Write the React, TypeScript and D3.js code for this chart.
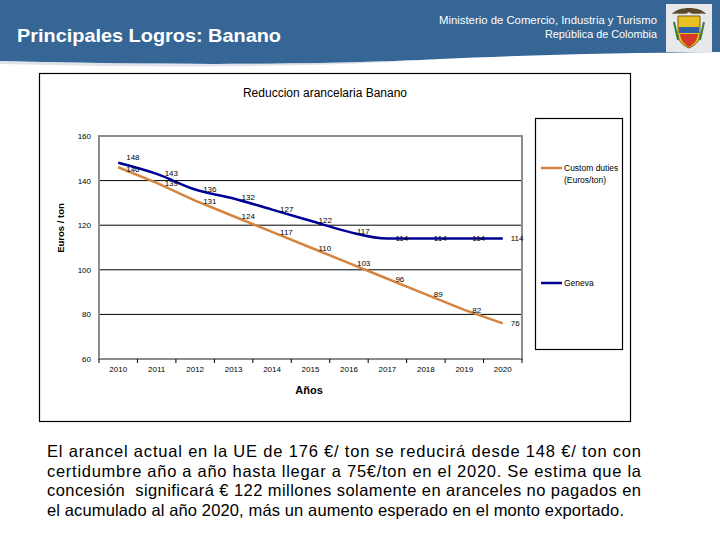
import * as d3 from "d3";

const years = ["2010", "2011", "2012", "2013", "2014", "2015", "2016", "2017", "2018", "2019", "2020"];
const customDuties = [146, 139, 131, 124, 117, 110, 103, 96, 89, 82, 76];
const geneva = [148, 143, 136, 132, 127, 122, 117, 114, 114, 114, 114];
const yTicks = [60, 80, 100, 120, 140, 160];

const paragraph = [
  "El arancel actual en la UE de 176 €/ ton se reducirá desde 148 €/ ton con",
  "certidumbre año a año hasta llegar a 75€/ton en el 2020. Se estima que la",
  "concesión  significará € 122 millones solamente en aranceles no pagados en",
  "el acumulado al año 2020, más un aumento esperado en el monto exportado.",
];

const ORANGE = "#d4843e";
const BLUE = "#000096";
const HEADER = "#356696";
const FONT = "'Liberation Sans', Arial, sans-serif";

export default function App() {
  const x = d3.scaleBand<string>().domain(years).range([99, 522]);
  const y = d3.scaleLinear().domain([60, 160]).range([359, 136]);
  const cx = (i: number) => x(years[i])! + x.bandwidth() / 2;

  const orangeLine = d3
    .line<number>()
    .x((_, i) => cx(i))
    .y((d) => y(d));
  const blueLine = d3
    .line<number>()
    .x((_, i) => cx(i))
    .y((d) => y(d))
    .curve(d3.curveMonotoneX);

  const boundaries = years.map((yr) => x(yr)!).concat([522]);

  // the first two labels sit on top of each other, nudge them apart
  const gShift = (i: number) => (i === 0 ? -2.5 : 2);
  const cShift = (i: number) => (i === 0 ? 5 : 3);

  return (
    <svg
      width={720}
      height={540}
      style={{ position: "absolute", left: 0, top: 0, background: "#fff" }}
      fontFamily={FONT}
    >
      {/* header band */}
      <path
        d="M0,0 H720 V52 C620,53 520,55 440,59 C340,64 200,66 0,61 Z"
        fill={HEADER}
      />
      <path
        d="M0,61 C200,66 340,64 440,59 C340,66 200,69 0,64 Z"
        fill="#c9d2dc"
        opacity={0.6}
      />
      <text x={17} y={42} fill="#fff" fontSize={19} fontWeight="bold" textLength={264} lengthAdjust="spacingAndGlyphs">
        Principales Logros: Banano
      </text>
      <text x={657} y={24} fill="#fff" fontSize={11.5} textAnchor="end" textLength={218} lengthAdjust="spacingAndGlyphs">
        Ministerio de Comercio, Industria y Turismo
      </text>
      <text x={657} y={38} fill="#fff" fontSize={11.5} textAnchor="end" textLength={112} lengthAdjust="spacingAndGlyphs">
        República de Colombia
      </text>
      {/* coat of arms (simplified) */}
      <g>
        <rect x={666} y={4} width={46} height={48} fill="#e6e8ea" />
        <path d="M672,14 C678,6 700,6 706,14 C700,12 694,16 689,12 C684,16 678,12 672,14 Z" fill="#5a4a2a" />
        <path d="M678,16 H700 V34 C700,42 694,46 689,48 C684,46 678,42 678,34 Z" fill="#e8c020" stroke="#7a6020" strokeWidth={1} />
        <rect x={679} y={27} width={20} height={6} fill="#3060a8" />
        <path d="M680,34 H698 C697,41 693,45 689,47 C685,45 681,41 680,34 Z" fill="#d23a2a" />
        <path d="M674,22 L678,40 M704,22 L700,40" stroke="#3c7a3c" strokeWidth={2} />
      </g>

      {/* chart frame */}
      <rect x={39.5} y={73.5} width={591} height={348} fill="#fff" stroke="#000" strokeWidth={1.2} />
      <text x={325} y={97} fontSize={12} textAnchor="middle">
        Reduccion arancelaria Banano
      </text>

      {/* gridlines */}
      {yTicks.map((t) => (
        <line key={t} x1={99} x2={522} y1={y(t)} y2={y(t)} stroke="#000" strokeWidth={1} />
      ))}
      {/* plot border */}
      <rect x={99} y={y(160)} width={423} height={y(60) - y(160)} fill="none" stroke="#8c8c8c" strokeWidth={2} />

      {/* y ticks */}
      {yTicks.map((t) => (
        <text key={t} x={91} y={y(t) + 3} fontSize={8} textAnchor="end">
          {t}
        </text>
      ))}
      <text
        transform="translate(64,228) rotate(-90)"
        fontSize={9.5}
        fontWeight="bold"
        textAnchor="middle"
      >
        Euros / ton
      </text>

      {/* x ticks */}
      {boundaries.map((b, i) => (
        <line key={i} x1={b} x2={b} y1={359} y2={363} stroke="#000" strokeWidth={1} />
      ))}
      {years.map((yr, i) => (
        <text key={yr} x={cx(i)} y={372} fontSize={8} textAnchor="middle">
          {yr}
        </text>
      ))}
      <text x={309} y={394} fontSize={11} fontWeight="bold" textAnchor="middle">
        Años
      </text>

      {/* series */}
      <path d={orangeLine(customDuties)!} fill="none" stroke={ORANGE} strokeWidth={2.5} />
      <path d={blueLine(geneva)!} fill="none" stroke={BLUE} strokeWidth={2.5} />

      {/* data labels */}
      {geneva.map((v, i) => (
        <text key={"g" + i} x={cx(i) + 8} y={y(v) + gShift(i)} fontSize={8}>
          {v}
        </text>
      ))}
      {customDuties.map((v, i) => (
        <text key={"c" + i} x={cx(i) + 8} y={y(v) + cShift(i)} fontSize={8}>
          {v}
        </text>
      ))}

      {/* legend */}
      <rect x={535.5} y={118.5} width={87} height={231} fill="none" stroke="#000" strokeWidth={1.2} />
      <line x1={541} x2={562} y1={168} y2={168} stroke={ORANGE} strokeWidth={2.5} />
      <text x={564} y={171} fontSize={8.5}>
        Custom duties
      </text>
      <text x={564} y={183} fontSize={8.5}>
        (Euros/ton)
      </text>
      <line x1={541} x2={562} y1={283} y2={283} stroke={BLUE} strokeWidth={2.5} />
      <text x={564} y={286} fontSize={8.5}>
        Geneva
      </text>

      {/* paragraph */}
      {paragraph.map((line, i) => (
        <text
          key={i}
          x={47}
          y={457 + i * 19.6}
          fontSize={16.5}
          textLength={i < 3 ? 594 : 577}
          lengthAdjust="spacing"
          xmlSpace="preserve"
        >
          {line}
        </text>
      ))}
    </svg>
  );
}
